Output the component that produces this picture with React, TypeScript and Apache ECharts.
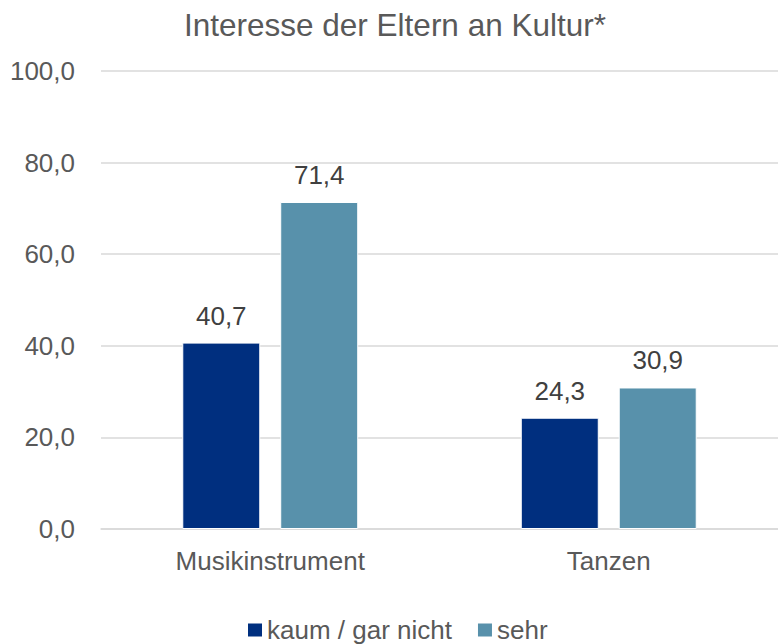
import React, { useEffect, useRef } from "react";
import * as echarts from "echarts";

const categories = ["Musikinstrument", "Tanzen"];
const seriesNames = ["kaum / gar nicht", "sehr"];
const kaumValues = [40.7, 24.3];
const sehrValues = [71.4, 30.9];
const colors = ["#002F7F", "#5891AB"];

export default function App() {
  const ref = useRef<HTMLDivElement>(null);
  useEffect(() => {
    if (!ref.current) return;
    const chart = echarts.init(ref.current, null, { renderer: "svg" });
    const font = "Liberation Sans, Arial, sans-serif";
    const fmt = (v: number) => v.toFixed(1).replace(".", ",");
    const mk = (name: string, data: number[], color: string) => ({
      name,
      type: "bar",
      data,
      barWidth: 78,
      barGap: "25.6%",
      itemStyle: { color, borderColor: "#ffffff", borderWidth: 1 },
      label: {
        show: true,
        position: "top",
        distance: 14,
        fontFamily: font,
        fontSize: 26,
        color: "#404040",
        formatter: (p: any) => fmt(p.value),
      },
    });
    chart.setOption({
      animation: false,
      title: {
        text: "Interesse der Eltern an Kultur*",
        left: 179,
        top: 4,
        textStyle: { fontFamily: font, fontSize: 31.5, fontWeight: "normal", color: "#595959" },
      },
      legend: {
        data: seriesNames,
        top: 617,
        left: 246,
        padding: 0,
        icon: "rect",
        itemWidth: 16,
        itemHeight: 15,
        itemGap: 24,
        textStyle: { fontFamily: font, fontSize: 26, color: "#595959", padding: [0, 0, 0, -1] },
      },
      grid: { left: 101, right: -6, top: 71, bottom: 115 },
      xAxis: {
        type: "category",
        data: categories,
        axisLine: { lineStyle: { color: "#D9D9D9", width: 1.5 } },
        axisTick: { show: false },
        axisLabel: { fontFamily: font, fontSize: 26, color: "#595959", margin: 19 },
      },
      yAxis: {
        type: "value",
        min: 0,
        max: 100,
        interval: 20,
        axisLine: { show: false },
        axisTick: { show: false },
        splitLine: { lineStyle: { color: "#D9D9D9", width: 1.5 } },
        axisLabel: {
          fontFamily: font,
          fontSize: 26,
          color: "#595959",
          margin: 26,
          formatter: (v: number) => fmt(v),
        },
      },
      series: [mk(seriesNames[0], kaumValues, colors[0]), mk(seriesNames[1], sehrValues, colors[1])],
    });
    return () => chart.dispose();
  }, []);
  return <div ref={ref} style={{ width: 778, height: 644, position: "absolute", left: 0, top: 0 }} />;
}
